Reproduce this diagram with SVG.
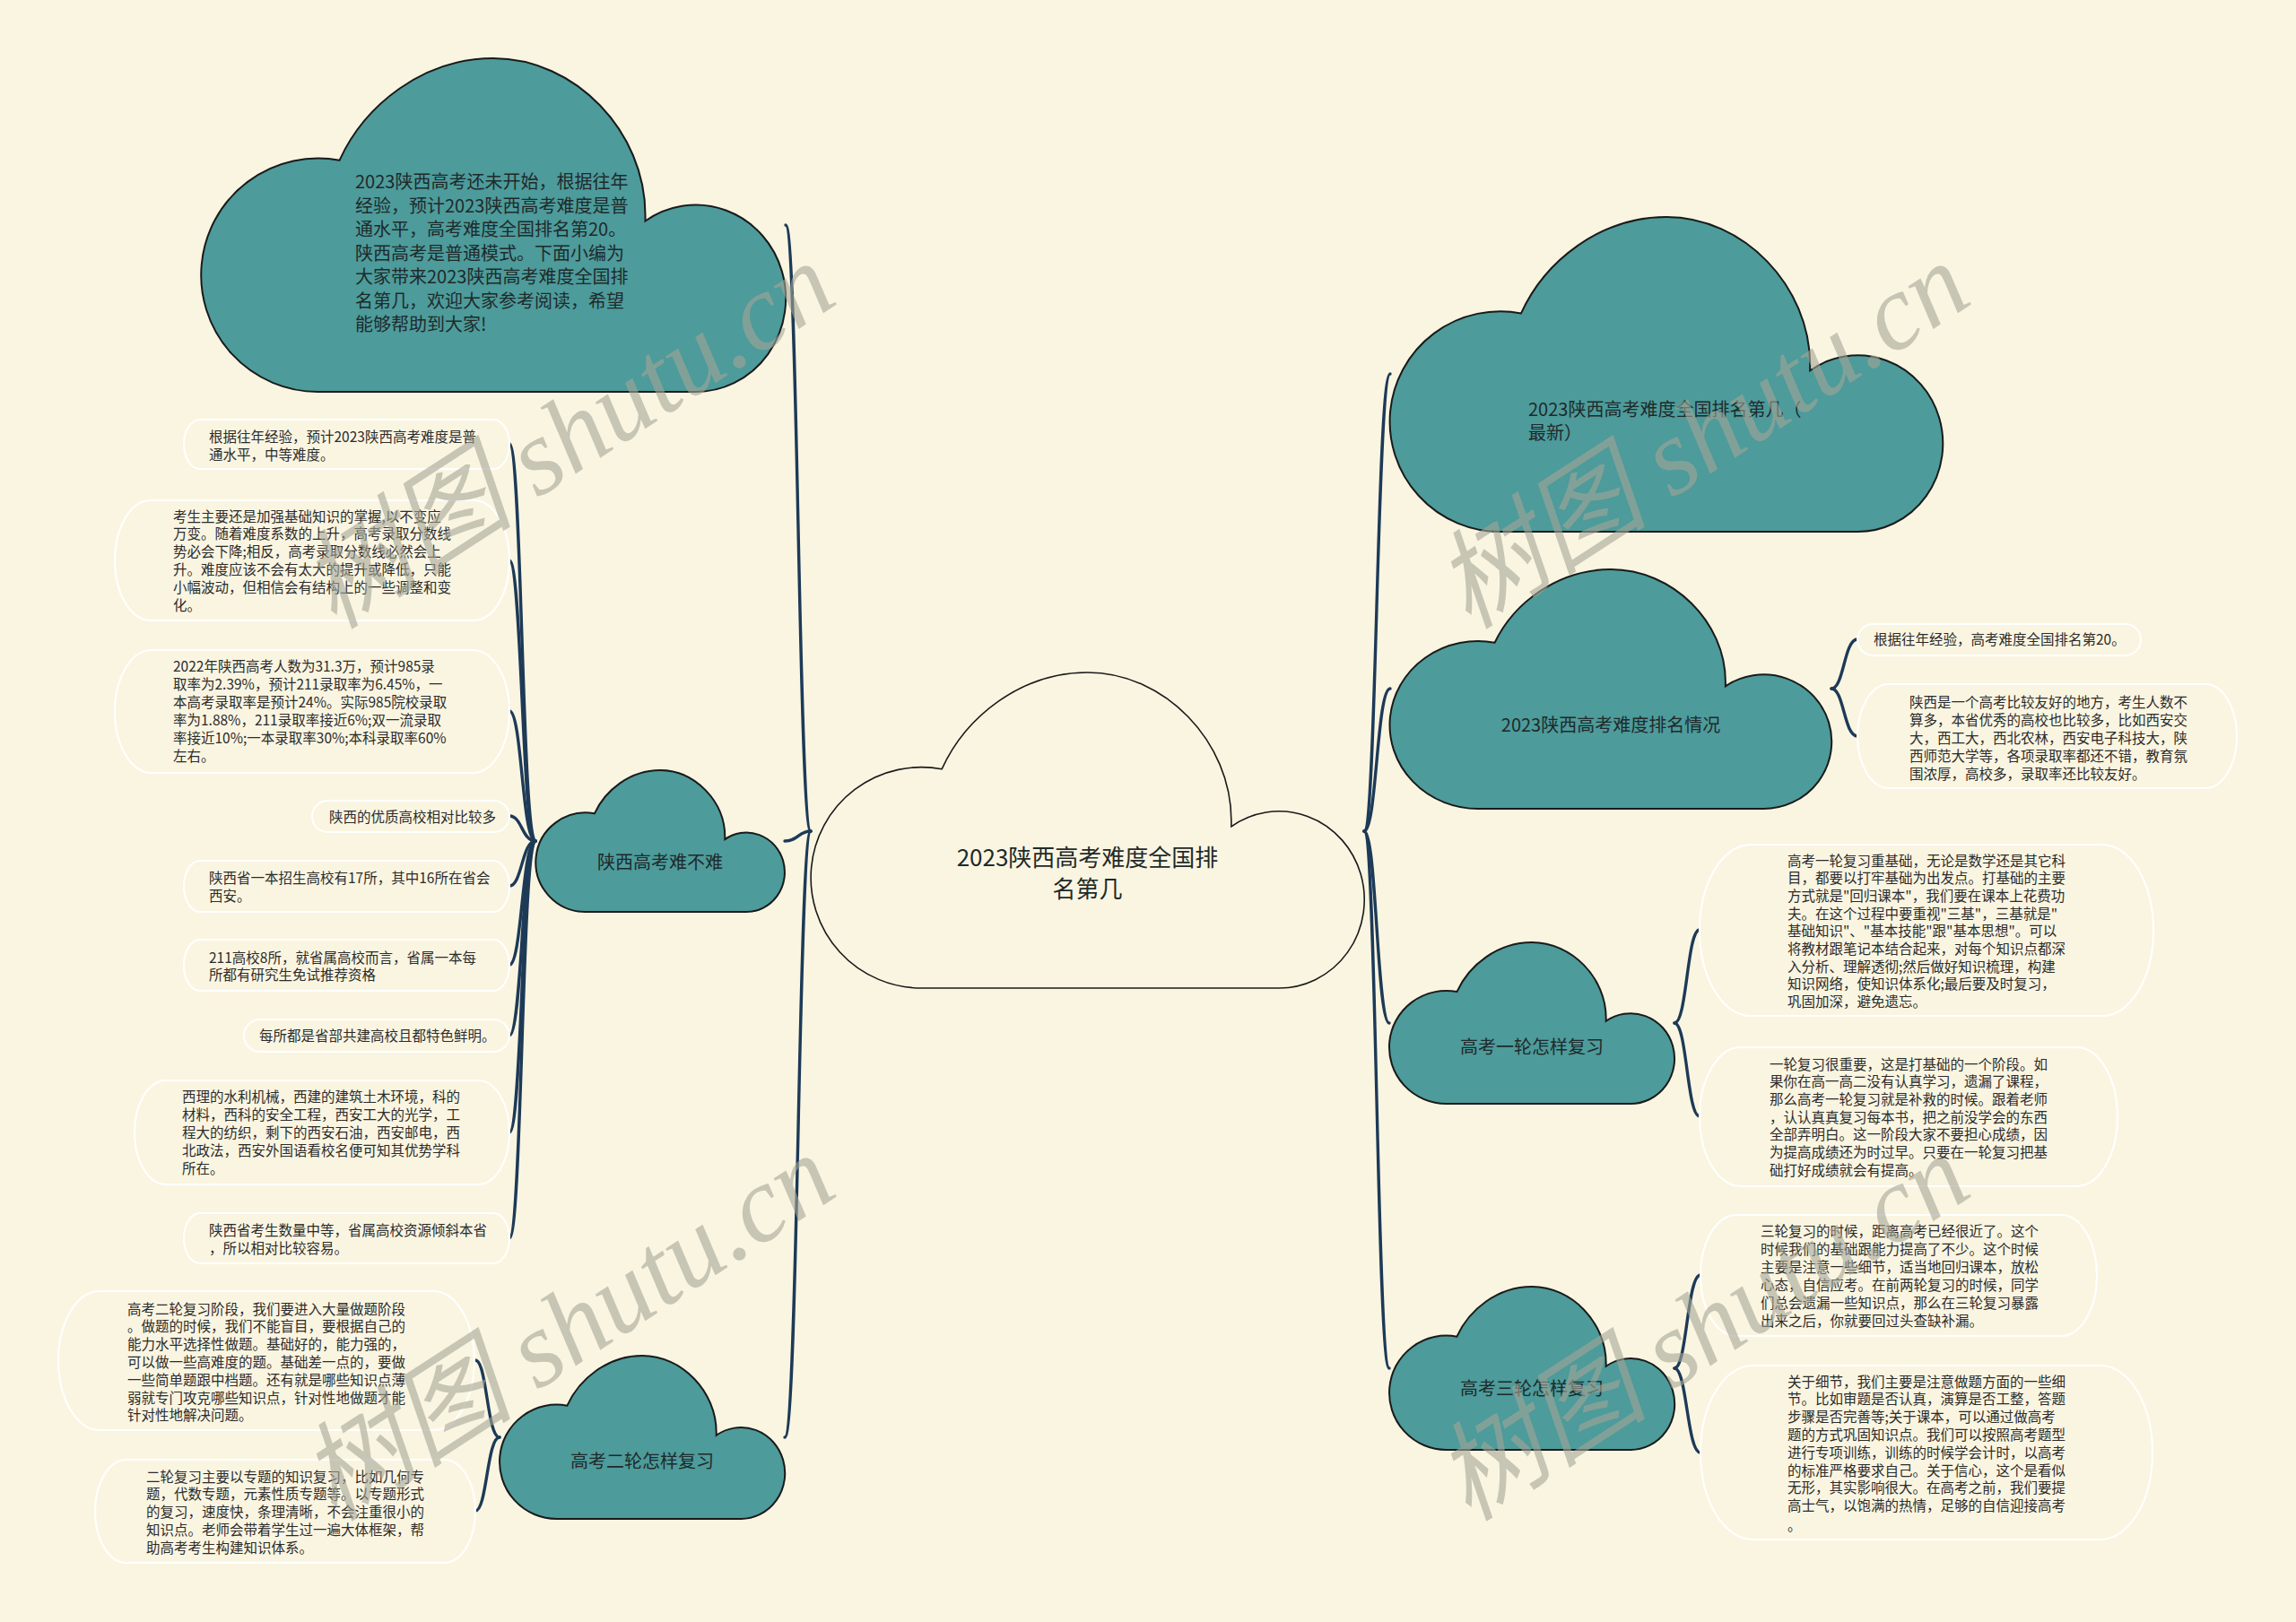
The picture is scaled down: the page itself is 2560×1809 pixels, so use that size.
<svg xmlns="http://www.w3.org/2000/svg" width="2560" height="1809" viewBox="0 0 2560 1809">
<defs>
<style>
.bg{fill:#faf5e1}
.cloud{fill:#4d9b9b;stroke:#1a1a1a;stroke-width:2}
.center{fill:#faf5e1;stroke:#1a1a1a;stroke-width:1.6}
.leaf{fill:#faf5e1;stroke:#ffffff;stroke-width:2}
.ln{fill:none;stroke:#1d3a57;stroke-width:3.4;stroke-linecap:round}
.t{font-family:"Noto Sans CJK SC","Noto Sans",sans-serif;fill:#1f2a2a}
.nt{font-size:20px}
.ct{font-size:26px}
.lt{font-size:15.5px;fill:#2b2b2b}
.wm{font-family:"Liberation Serif","Noto Sans CJK SC",serif;font-style:italic;font-size:120px;fill:#a5a596;fill-opacity:0.6}
</style>
</defs>
<rect class="bg" x="0" y="0" width="2560" height="1809"/>

<g id="connectors">
<path class="ln" d="M904,927 C890,927 890,251 876,251"/>
<path class="ln" d="M904,927 C890,927 890,938 875,938"/>
<path class="ln" d="M904,927 C890,927 890,1603 875,1603"/>
<path class="ln" d="M1521,927 C1535,927 1535,417 1550,417"/>
<path class="ln" d="M1521,927 C1535,927 1535,768 1550,768"/>
<path class="ln" d="M1521,927 C1535,927 1535,1141 1549,1141"/>
<path class="ln" d="M1521,927 C1535,927 1535,1526 1549,1526"/>
<path class="ln" d="M597,938 C582,938 582,495 568,495"/>
<path class="ln" d="M597,938 C582,938 582,625 568,625"/>
<path class="ln" d="M597,938 C582,938 582,793 568,793"/>
<path class="ln" d="M597,938 C582,938 582,910 568,910"/>
<path class="ln" d="M597,938 C582,938 582,988 568,988"/>
<path class="ln" d="M597,938 C582,938 582,1076 568,1076"/>
<path class="ln" d="M597,938 C582,938 582,1155 568,1155"/>
<path class="ln" d="M597,938 C582,938 582,1263 568,1263"/>
<path class="ln" d="M597,938 C582,938 582,1381 568,1381"/>
<path class="ln" d="M557,1603 C543,1603 543,1517 530,1517"/>
<path class="ln" d="M557,1603 C543,1603 543,1685 530,1685"/>
<path class="ln" d="M2042,768 C2056,768 2056,713 2071,713"/>
<path class="ln" d="M2042,768 C2056,768 2056,821 2071,821"/>
<path class="ln" d="M1867,1141 C1881,1141 1881,1037 1895,1037"/>
<path class="ln" d="M1867,1141 C1881,1141 1881,1245 1895,1245"/>
<path class="ln" d="M1867,1526 C1881,1526 1881,1422 1896,1422"/>
<path class="ln" d="M1867,1526 C1881,1526 1881,1620 1896,1620"/>
</g>

<g id="n-center">
<path class="center" d="M1027.4,1102 A123.4,123.2 0 1 1 1050.2,857.7 C1076.8,799.3 1138.5,750 1212.5,750 C1298.9,750 1372.9,827.4 1372.9,915.4 L1372.9,921.8 A95,98.6 0 1 1 1426,1102 Z"/>
<text class="t ct" text-anchor="middle"><tspan x="1212.5" y="966">2023陕西高考难度全国排</tspan><tspan x="1212.5" y="1001">名第几</tspan></text>
</g>

<g id="n-intro">
<path class="cloud" d="M354.4,437 A130.4,130.2 0 1 1 378.5,178.8 C406.6,117.1 471.8,65 550,65 C641.3,65 719.5,146.8 719.5,239.8 L719.5,246.5 A100.4,104.2 0 1 1 775.6,437 Z"/>
<text class="t nt"><tspan x="396" y="210">2023陕西高考还未开始，根据往年</tspan><tspan x="396" y="236.5">经验，预计2023陕西高考难度是普</tspan><tspan x="396" y="263">通水平，高考难度全国排名第20。</tspan><tspan x="396" y="289.5">陕西高考是普通模式。下面小编为</tspan><tspan x="396" y="316">大家带来2023陕西高考难度全国排</tspan><tspan x="396" y="342.5">名第几，欢迎大家参考阅读，希望</tspan><tspan x="396" y="369">能够帮助到大家!</tspan></text>
</g>

<g id="n-nan">
<path class="cloud" d="M652.6,1017 A55.6,55.3 0 1 1 662.9,907.3 C674.8,881.1 702.6,859 736,859 C774.9,859 808.3,893.8 808.3,933.3 L808.3,936.1 A42.8,44.2 0 1 1 832.2,1017 Z"/>
<text class="t nt" x="736" y="969" text-anchor="middle">陕西高考难不难</text>
</g>

<g id="n-er">
<path class="cloud" d="M620.6,1694 A63.6,63.7 0 1 1 632.4,1567.7 C646,1537.5 677.8,1512 716,1512 C760.5,1512 798.7,1552 798.7,1597.5 L798.7,1600.8 A49,51 0 1 1 826,1694 Z"/>
<text class="t nt" x="716" y="1637" text-anchor="middle">高考二轮怎样复习</text>
</g>

<g id="n-latest">
<path class="cloud" d="M1673.2,593 A123.2,122.9 0 1 1 1696,349.4 C1722.5,291.1 1784.1,242 1858,242 C1944.2,242 2018.2,319.2 2018.2,407 L2018.2,413.3 A94.9,98.3 0 1 1 2071.1,593 Z"/>
<text class="t nt"><tspan x="1704" y="464">2023陕西高考难度全国排名第几（</tspan><tspan x="1704" y="490">最新）</tspan></text>
</g>

<g id="n-rank">
<path class="cloud" d="M1648.4,902 A98.4,93.5 0 1 1 1666.6,716.7 C1687.8,672.4 1737,635 1796,635 C1864.9,635 1923.9,693.7 1923.9,760.5 L1923.9,765.3 A75.8,74.8 0 1 1 1966.2,902 Z"/>
<text class="t nt" x="1796" y="816" text-anchor="middle">2023陕西高考难度排名情况</text>
</g>

<g id="n-yi">
<path class="cloud" d="M1612.6,1231 A63.6,63 0 1 1 1624.4,1106.1 C1638,1076.2 1669.8,1051 1708,1051 C1752.5,1051 1790.7,1090.6 1790.7,1135.6 L1790.7,1138.8 A49,50.4 0 1 1 1818,1231 Z"/>
<text class="t nt" x="1708" y="1175" text-anchor="middle">高考一轮怎样复习</text>
</g>

<g id="n-san">
<path class="cloud" d="M1612.6,1617 A63.6,63.7 0 1 1 1624.4,1490.7 C1638,1460.5 1669.8,1435 1708,1435 C1752.5,1435 1790.7,1475 1790.7,1520.5 L1790.7,1523.8 A49,51 0 1 1 1818,1617 Z"/>
<text class="t nt" x="1708" y="1556" text-anchor="middle">高考三轮怎样复习</text>
</g>

<g id="leaf-l1">
<rect class="leaf" x="205" y="468" width="363" height="55" rx="18" ry="27.5"/>
<text class="t lt"><tspan x="233" y="492.5">根据往年经验，预计2023陕西高考难度是普</tspan><tspan x="233" y="512.5">通水平，中等难度。</tspan></text>
</g>
<g id="leaf-l2">
<rect class="leaf" x="128" y="558" width="440" height="134" rx="40" ry="67"/>
<text class="t lt"><tspan x="193" y="581.5">考生主要还是加强基础知识的掌握,以不变应</tspan><tspan x="193" y="601.3">万变。随着难度系数的上升，高考录取分数线</tspan><tspan x="193" y="621.1">势必会下降;相反，高考录取分数线必然会上</tspan><tspan x="193" y="640.9">升。难度应该不会有太大的提升或降低，只能</tspan><tspan x="193" y="660.7">小幅波动，但相信会有结构上的一些调整和变</tspan><tspan x="193" y="680.5">化。</tspan></text>
</g>
<g id="leaf-l3">
<rect class="leaf" x="128" y="725" width="440" height="137" rx="41" ry="68.5"/>
<text class="t lt"><tspan x="193" y="748.5">2022年陕西高考人数为31.3万，预计985录</tspan><tspan x="193" y="768.5">取率为2.39%，预计211录取率为6.45%，一</tspan><tspan x="193" y="788.5">本高考录取率是预计24%。实际985院校录取</tspan><tspan x="193" y="808.5">率为1.88%，211录取率接近6%;双一流录取</tspan><tspan x="193" y="828.5">率接近10%;一本录取率30%;本科录取率60%</tspan><tspan x="193" y="848.5">左右。</tspan></text>
</g>
<g id="leaf-l4">
<rect class="leaf" x="348" y="893" width="220" height="35" rx="17.5" ry="17.5"/>
<text class="t lt" x="367" y="916.5">陕西的优质高校相对比较多</text>
</g>
<g id="leaf-l5">
<rect class="leaf" x="205" y="960" width="363" height="57" rx="18" ry="28.5"/>
<text class="t lt"><tspan x="233" y="984.5">陕西省一本招生高校有17所，其中16所在省会</tspan><tspan x="233" y="1004.5">西安。</tspan></text>
</g>
<g id="leaf-l6">
<rect class="leaf" x="205" y="1048" width="363" height="57" rx="18" ry="28.5"/>
<text class="t lt"><tspan x="233" y="1073.5">211高校8所，就省属高校而言，省属一本每</tspan><tspan x="233" y="1092.5">所都有研究生免试推荐资格</tspan></text>
</g>
<g id="leaf-l7">
<rect class="leaf" x="272" y="1137" width="296" height="36" rx="18" ry="18"/>
<text class="t lt" x="289" y="1160.5">每所都是省部共建高校且都特色鲜明。</text>
</g>
<g id="leaf-l8">
<rect class="leaf" x="150" y="1205" width="418" height="116" rx="35" ry="58"/>
<text class="t lt"><tspan x="203" y="1228.5">西理的水利机械，西建的建筑土木环境，科的</tspan><tspan x="203" y="1248.5">材料，西科的安全工程，西安工大的光学，工</tspan><tspan x="203" y="1268.5">程大的纺织，剩下的西安石油，西安邮电，西</tspan><tspan x="203" y="1288.5">北政法，西安外国语看校名便可知其优势学科</tspan><tspan x="203" y="1308.5">所在。</tspan></text>
</g>
<g id="leaf-l9">
<rect class="leaf" x="205" y="1353" width="363" height="56" rx="18" ry="28"/>
<text class="t lt"><tspan x="233" y="1377.5">陕西省考生数量中等，省属高校资源倾斜本省</tspan><tspan x="233" y="1397.5">，所以相对比较容易。</tspan></text>
</g>
<g id="leaf-l10">
<rect class="leaf" x="65" y="1440" width="464" height="155" rx="46" ry="77.5"/>
<text class="t lt"><tspan x="142" y="1465.5">高考二轮复习阶段，我们要进入大量做题阶段</tspan><tspan x="142" y="1485.3">。做题的时候，我们不能盲目，要根据自己的</tspan><tspan x="142" y="1505.1">能力水平选择性做题。基础好的，能力强的，</tspan><tspan x="142" y="1524.9">可以做一些高难度的题。基础差一点的，要做</tspan><tspan x="142" y="1544.7">一些简单题跟中档题。还有就是哪些知识点薄</tspan><tspan x="142" y="1564.5">弱就专门攻克哪些知识点，针对性地做题才能</tspan><tspan x="142" y="1584.3">针对性地解决问题。</tspan></text>
</g>
<g id="leaf-l11">
<rect class="leaf" x="106" y="1628" width="424" height="115" rx="35" ry="57.5"/>
<text class="t lt"><tspan x="163" y="1652.5">二轮复习主要以专题的知识复习，比如几何专</tspan><tspan x="163" y="1672.3">题，代数专题，元素性质专题等。以专题形式</tspan><tspan x="163" y="1692.1">的复习，速度快，条理清晰，不会注重很小的</tspan><tspan x="163" y="1711.9">知识点。老师会带着学生过一遍大体框架，帮</tspan><tspan x="163" y="1731.7">助高考考生构建知识体系。</tspan></text>
</g>

<g id="leaf-r1">
<rect class="leaf" x="2071" y="696" width="316" height="35" rx="17.5" ry="17.5"/>
<text class="t lt" x="2089" y="718.5">根据往年经验，高考难度全国排名第20。</text>
</g>
<g id="leaf-r2">
<rect class="leaf" x="2071" y="763" width="423" height="116" rx="35" ry="58"/>
<text class="t lt"><tspan x="2129" y="788.5">陕西是一个高考比较友好的地方，考生人数不</tspan><tspan x="2129" y="808.5">算多，本省优秀的高校也比较多，比如西安交</tspan><tspan x="2129" y="828.5">大，西工大，西北农林，西安电子科技大，陕</tspan><tspan x="2129" y="848.5">西师范大学等，各项录取率都还不错，教育氛</tspan><tspan x="2129" y="868.5">围浓厚，高校多，录取率还比较友好。</tspan></text>
</g>
<g id="leaf-r3">
<rect class="leaf" x="1895" y="942" width="506" height="191" rx="57" ry="95.5"/>
<text class="t lt"><tspan x="1993" y="965.5">高考一轮复习重基础，无论是数学还是其它科</tspan><tspan x="1993" y="985.2">目，都要以打牢基础为出发点。打基础的主要</tspan><tspan x="1993" y="1004.9">方式就是"回归课本"，我们要在课本上花费功</tspan><tspan x="1993" y="1024.6">夫。在这个过程中要重视"三基"，三基就是"</tspan><tspan x="1993" y="1044.3">基础知识"、"基本技能"跟"基本思想"。可以</tspan><tspan x="1993" y="1064">将教材跟笔记本结合起来，对每个知识点都深</tspan><tspan x="1993" y="1083.7">入分析、理解透彻;然后做好知识梳理，构建</tspan><tspan x="1993" y="1103.4">知识网络，使知识体系化;最后要及时复习，</tspan><tspan x="1993" y="1123.1">巩固加深，避免遗忘。</tspan></text>
</g>
<g id="leaf-r4">
<rect class="leaf" x="1895" y="1168" width="466" height="155" rx="46" ry="77.5"/>
<text class="t lt"><tspan x="1973" y="1192.5">一轮复习很重要，这是打基础的一个阶段。如</tspan><tspan x="1973" y="1212.2">果你在高一高二没有认真学习，遗漏了课程，</tspan><tspan x="1973" y="1231.9">那么高考一轮复习就是补救的时候。跟着老师</tspan><tspan x="1973" y="1251.6">，认认真真复习每本书，把之前没学会的东西</tspan><tspan x="1973" y="1271.3">全部弄明白。这一阶段大家不要担心成绩，因</tspan><tspan x="1973" y="1291">为提高成绩还为时过早。只要在一轮复习把基</tspan><tspan x="1973" y="1310.7">础打好成绩就会有提高。</tspan></text>
</g>
<g id="leaf-r5">
<rect class="leaf" x="1896" y="1355" width="442" height="135" rx="40" ry="67.5"/>
<text class="t lt"><tspan x="1963" y="1378.5">三轮复习的时候，距离高考已经很近了。这个</tspan><tspan x="1963" y="1398.5">时候我们的基础跟能力提高了不少。这个时候</tspan><tspan x="1963" y="1418.5">主要是注意一些细节，适当地回归课本，放松</tspan><tspan x="1963" y="1438.5">心态，自信应考。在前两轮复习的时候，同学</tspan><tspan x="1963" y="1458.5">们总会遗漏一些知识点，那么在三轮复习暴露</tspan><tspan x="1963" y="1478.5">出来之后，你就要回过头查缺补漏。</tspan></text>
</g>
<g id="leaf-r6">
<rect class="leaf" x="1896" y="1523" width="504" height="194" rx="58" ry="97"/>
<text class="t lt"><tspan x="1993" y="1546.5">关于细节，我们主要是注意做题方面的一些细</tspan><tspan x="1993" y="1566.3">节。比如审题是否认真，演算是否工整，答题</tspan><tspan x="1993" y="1586.1">步骤是否完善等;关于课本，可以通过做高考</tspan><tspan x="1993" y="1605.9">题的方式巩固知识点。我们可以按照高考题型</tspan><tspan x="1993" y="1625.7">进行专项训练，训练的时候学会计时，以高考</tspan><tspan x="1993" y="1645.5">的标准严格要求自己。关于信心，这个是看似</tspan><tspan x="1993" y="1665.3">无形，其实影响很大。在高考之前，我们要提</tspan><tspan x="1993" y="1685.1">高士气，以饱满的热情，足够的自信迎接高考</tspan><tspan x="1993" y="1707">。</tspan></text>
</g>

<g id="watermarks">
<text class="wm" text-anchor="middle" transform="translate(655,520) rotate(-33)">树图 shutu.cn</text>
<text class="wm" text-anchor="middle" transform="translate(1920,520) rotate(-33)">树图 shutu.cn</text>
<text class="wm" text-anchor="middle" transform="translate(655,1515) rotate(-33)">树图 shutu.cn</text>
<text class="wm" text-anchor="middle" transform="translate(1920,1515) rotate(-33)">树图 shutu.cn</text>
</g>
</svg>
